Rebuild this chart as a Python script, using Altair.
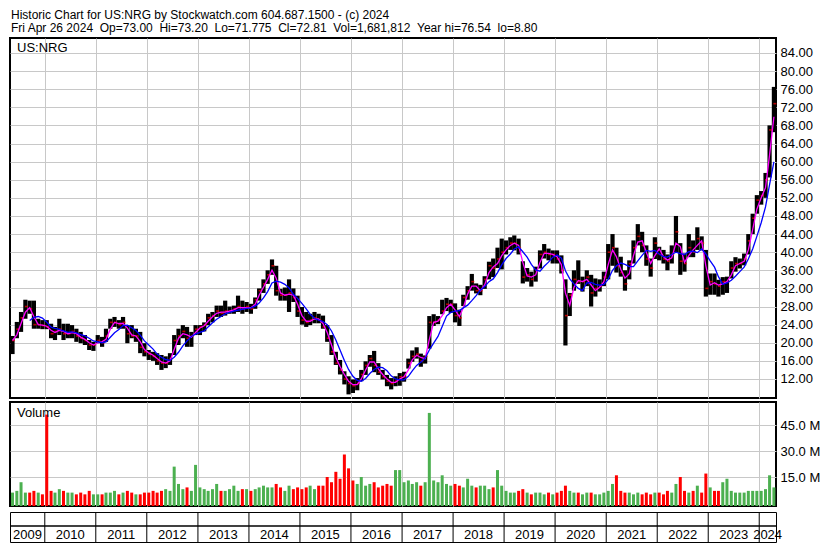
import altair as alt
import pandas as pd

FONT = "Liberation Sans"
GRID = "#c8c8c8"
RED = "#ff0000"
GREEN = "#4cb050"
W = 766

header1 = "Historic Chart for US:NRG by Stockwatch.com 604.687.1500 - (c) 2024"
header_fields = ["Fri Apr 26 2024", "Op=73.00", "Hi=73.20", "Lo=71.775", "Cl=72.81",
                 "Vol=1,681,812", "Year hi=76.54", "lo=8.80"]
header2 = "\u00a0\u00a0".join(header_fields)

# monthly bars, May 2009 .. Apr 2024
low = [
    17.5, 21.0, 22.4, 25.3, 26.4, 23.1, 23.1, 23.0,
    23.0, 21.0, 20.6, 21.7, 20.6, 21.0, 21.0, 20.2, 19.9, 19.5, 18.4, 18.2,
    19.9, 19.1, 20.2, 23.1, 23.5, 23.1, 23.1, 19.9, 21.0, 20.2, 17.7, 17.0,
    16.2, 16.0, 15.1, 14.0, 14.4, 15.1, 17.3, 19.5, 21.0, 19.1, 19.1, 21.7,
    21.7, 22.5, 23.9, 24.5, 25.7, 25.7, 26.0, 26.4, 26.4, 26.8, 26.4, 26.8,
    26.4, 27.5, 29.3, 31.0, 33.0, 35.0, 30.4, 29.3, 29.3, 26.8, 29.0, 25.7,
    24.0, 23.5, 23.9, 24.3, 24.3, 23.1, 20.2, 17.3, 15.1, 13.0, 10.8, 8.6,
    8.9, 9.5, 11.5, 12.9, 14.7, 13.5, 12.9, 11.9, 10.4, 9.7, 10.4, 10.5,
    11.4, 14.3, 15.8, 16.5, 14.7, 15.4, 18.7, 23.7, 24.1, 26.3, 27.0, 26.6,
    24.5, 23.7, 28.1, 29.5, 31.5, 30.9, 30.5, 31.9, 34.0, 34.5, 36.5, 36.2,
    39.5, 40.5, 40.4, 39.5, 33.1, 33.5, 32.4, 33.5, 36.4, 38.6, 38.2, 37.5,
    37.5, 35.3, 19.4, 25.9, 31.5, 33.0, 31.3, 32.5, 28.0, 30.2, 31.3, 32.5,
    34.0, 37.0, 35.5, 34.6, 31.5, 34.0, 37.5, 41.5, 40.0, 37.0, 34.6, 38.5,
    38.2, 37.5, 36.0, 37.5, 40.0, 35.0, 35.7, 38.9, 38.9, 40.5, 40.4, 30.2,
    30.6, 30.6, 30.2, 30.6, 31.0, 34.2, 35.7, 36.4, 37.1, 39.5, 44.0, 48.5,
    50.5, 52.0, 56.5, 66.5,
]
high = [
    21.5, 24.6, 26.8, 29.5, 29.3, 29.3, 25.3, 25.0,
    25.0, 24.2, 23.5, 25.3, 24.2, 24.2, 23.9, 23.1, 22.4, 21.7, 20.6, 20.2,
    21.7, 21.3, 23.1, 25.3, 25.7, 25.0, 25.7, 23.9, 23.9, 23.1, 22.4, 19.9,
    18.4, 18.0, 17.7, 17.3, 17.0, 17.7, 21.7, 23.1, 23.9, 23.5, 22.4, 23.9,
    23.9, 24.5, 26.4, 26.8, 28.2, 28.2, 29.3, 28.0, 28.2, 30.4, 29.3, 29.0,
    28.6, 30.0, 32.0, 34.0, 36.0, 38.4, 37.0, 31.9, 32.2, 34.0, 32.0, 30.4,
    27.9, 26.8, 26.4, 26.8, 26.4, 26.0, 23.9, 21.7, 18.0, 16.2, 13.7, 12.6,
    11.9, 12.2, 14.0, 15.9, 17.3, 18.2, 15.5, 14.0, 12.9, 12.2, 12.6, 13.3,
    13.6, 16.5, 18.3, 19.0, 17.6, 17.2, 25.9, 26.3, 25.9, 29.5, 29.9, 29.5,
    28.7, 27.3, 30.6, 32.5, 35.2, 33.1, 32.8, 34.7, 37.9, 38.6, 41.0, 43.0,
    42.6, 43.3, 43.7, 43.0, 38.0, 36.5, 35.7, 36.8, 40.4, 41.8, 40.8, 40.4,
    40.4, 39.3, 34.0, 31.0, 36.0, 38.2, 34.6, 36.0, 35.0, 34.2, 34.0, 35.7,
    41.8, 44.0, 41.0, 39.0, 36.0, 38.2, 42.6, 46.2, 44.5, 41.5, 38.6, 43.3,
    41.2, 40.5, 39.5, 41.5, 48.0, 42.0, 39.7, 44.0, 42.6, 45.5, 43.5, 40.5,
    35.3, 35.3, 33.9, 34.5, 34.6, 38.0, 38.9, 38.6, 39.7, 44.0, 48.5, 52.6,
    53.5, 57.5, 68.0, 76.5,
]
close = [
    20.5, 23.0, 25.5, 28.0, 27.5, 24.0, 24.0, 23.8,
    23.5, 22.0, 22.5, 23.0, 22.0, 22.0, 22.5, 21.5, 21.0, 20.5, 19.5, 19.5,
    20.5, 20.0, 21.5, 24.5, 24.5, 24.0, 24.5, 22.0, 21.5, 21.5, 19.0, 18.0,
    17.5, 17.0, 16.0, 15.5, 15.5, 16.5, 20.5, 21.5, 22.5, 21.0, 21.5, 23.0,
    23.5, 24.0, 25.5, 26.0, 27.0, 26.5, 27.0, 27.0, 27.5, 28.0, 27.5, 28.0,
    27.5, 29.5, 31.5, 33.0, 35.0, 37.0, 31.5, 30.5, 30.5, 31.0, 30.0, 27.0,
    25.0, 24.5, 25.0, 25.5, 25.0, 23.5, 21.0, 18.0, 15.5, 14.0, 12.0, 11.0,
    10.5, 11.0, 13.0, 15.0, 16.5, 15.0, 13.5, 12.5, 11.5, 11.0, 11.5, 12.5,
    12.5, 15.5, 17.0, 17.5, 16.0, 17.0, 24.5, 24.5, 25.0, 27.0, 28.5, 28.5,
    26.0, 25.5, 30.0, 31.5, 33.5, 31.5, 31.5, 34.0, 37.0, 36.5, 38.5, 40.0,
    41.0, 42.0, 42.0, 41.0, 34.5, 35.0, 34.0, 36.0, 39.5, 40.0, 39.5, 39.5,
    38.5, 36.0, 26.0, 30.5, 34.0, 33.5, 33.5, 34.5, 31.0, 32.0, 32.5, 34.5,
    40.0, 41.0, 37.0, 35.5, 33.0, 37.5, 41.0, 43.5, 41.5, 38.5, 36.5, 42.0,
    39.5, 38.5, 38.0, 39.5, 44.5, 38.0, 37.5, 41.0, 40.0, 43.0, 42.0, 32.0,
    33.5, 33.0, 32.5, 33.5, 33.5, 36.5, 37.5, 37.5, 38.5, 42.5, 47.5, 51.5,
    52.5, 56.0, 67.0, 72.8,
]
# volume in millions
volume = [
    6, 7, 12, 6, 6, 7, 6, 5,
    51, 7, 6, 8, 7, 6, 6, 5, 6, 5, 7, 5,
    5, 5, 6, 6, 7, 5, 6, 7, 6, 5, 5, 6,
    6, 7, 6, 7, 8, 7, 21, 11, 8, 9, 7, 22,
    9, 8, 7, 8, 11, 7, 7, 8, 10, 7, 8, 8,
    7, 8, 9, 10, 9, 9, 11, 9, 7, 10, 8, 9,
    8, 9, 10, 8, 10, 10, 15, 12, 18, 14, 28, 20,
    13, 11, 15, 10, 11, 12, 9, 10, 11, 10, 19, 19,
    12, 13, 11, 12, 10, 12, 52, 13, 12, 16, 11, 10,
    11, 10, 9, 14, 10, 9, 10, 10, 8, 9, 19, 10,
    7, 6, 6, 7, 8, 6, 5, 6, 6, 5, 6, 5,
    6, 7, 10, 7, 6, 6, 5, 6, 6, 5, 5, 6,
    7, 11, 16, 7, 6, 6, 5, 6, 5, 6, 5, 6,
    6, 5, 7, 6, 11, 15, 7, 6, 7, 10, 6, 17,
    9, 7, 7, 12, 14, 7, 6, 6, 6, 7, 7, 7,
    7, 8, 16, 9,
]
price_ticks = list(range(12, 85, 4))
volume_ticks = [15, 30, 45]
years = list(range(2009, 2025))

dates = pd.date_range("2009-05-15", periods=len(close), freq=pd.DateOffset(months=1))
df = pd.DataFrame({"date": dates, "low": low, "high": high, "close": close, "vol": volume})
df["dir"] = ["up" if i == 0 or close[i] >= close[i - 1] else "down" for i in range(len(close))]

xscale = alt.Scale(domain=[alt.DateTime(year=2009, month=4, date=27),
                           alt.DateTime(year=2024, month=4, date=30)])
year_starts = [alt.DateTime(year=y, month=1, date=1) for y in years[1:]]
xaxis = alt.Axis(values=year_starts, grid=True, gridColor=GRID, gridWidth=1,
                 labels=False, ticks=False, domain=False, title=None)
X = alt.X("date:T", scale=xscale, axis=xaxis)

# ---------------- header ----------------
hdf = pd.DataFrame({"t": [header1, header2], "y": [0, 13]})
header = alt.Chart(hdf).mark_text(
    align="left", baseline="top", font=FONT, fontSize=12, color="black"
).encode(
    x=alt.value(1), y=alt.Y("y:Q", scale=None, axis=None), text="t:N"
).properties(width=W, height=24, view=alt.ViewBackground(stroke="transparent"))

# ---------------- price panel ----------------
PH = 360
yscale = alt.Scale(domain=[7.8, 87.3], nice=False, zero=False)
yaxis = alt.Axis(orient="right", values=price_ticks, format=".2f", grid=True,
                 gridColor=GRID, gridWidth=1, ticks=False, domain=False,
                 labelFont=FONT, labelFontSize=13, labelColor="black",
                 labelPadding=4, title=None)

bars = alt.Chart(df).mark_rule(color="black", strokeWidth=4.2).encode(
    x=X, y=alt.Y("low:Q", scale=yscale, axis=yaxis), y2="high:Q")
cticks = alt.Chart(df).mark_tick(color=RED, orient="horizontal", size=3,
                                 thickness=1.6, xOffset=1).encode(
    x=X, y=alt.Y("close:Q", scale=yscale, axis=yaxis))
ma_short = alt.Chart(df).transform_window(
    ma="mean(close)", frame=[-1, 0], sort=[alt.SortField(field="date")]
).mark_line(color="#ff00ff", strokeWidth=1.3).encode(
    x=X, y=alt.Y("ma:Q", scale=yscale, axis=yaxis))
ma_long = alt.Chart(df).transform_window(
    ma="mean(close)", rn="row_number()", frame=[-4, 0], sort=[alt.SortField(field="date")]
).transform_filter("datum.rn >= 5").mark_line(color="#0000ff", strokeWidth=1.3).encode(
    x=X, y=alt.Y("ma:Q", scale=yscale, axis=yaxis))
plabel = alt.Chart(pd.DataFrame({"t": ["US:NRG"]})).mark_text(
    align="left", baseline="alphabetic", font=FONT, fontSize=13, color="black"
).encode(x=alt.value(7), y=alt.value(14), text="t:N")

price = alt.layer(bars, cticks, ma_short, ma_long, plabel).properties(
    width=W, height=PH, view=alt.ViewBackground(stroke="black", strokeWidth=2))

# ---------------- volume panel ----------------
VH = 104
vscale = alt.Scale(domain=[-1.73, 58.3], nice=False, zero=False)
vaxis = alt.Axis(orient="right", values=volume_ticks,
                 labelExpr="format(datum.value, '.1f') + ' M'", grid=True,
                 gridColor=GRID, gridWidth=1, ticks=False, domain=False,
                 labelFont=FONT, labelFontSize=13, labelColor="black",
                 labelPadding=4, title=None)
vbars = alt.Chart(df).mark_rule(strokeWidth=3.0).encode(
    x=X, y=alt.Y("vol:Q", scale=vscale, axis=vaxis), y2=alt.value(VH),
    color=alt.Color("dir:N", scale=alt.Scale(domain=["up", "down"], range=[GREEN, RED]),
                    legend=None))
vlabel = alt.Chart(pd.DataFrame({"t": ["Volume"]})).mark_text(
    align="left", baseline="alphabetic", font=FONT, fontSize=13, color="black"
).encode(x=alt.value(7), y=alt.value(15), text="t:N")
volume_chart = alt.layer(vbars, vlabel).properties(
    width=W, height=VH, view=alt.ViewBackground(stroke="black", strokeWidth=2))

# ---------------- year row ----------------
ystart = pd.DataFrame({"start": [pd.Timestamp(f"{y}-01-01") for y in years[1:]]})
mids = ([pd.Timestamp("2009-08-30")] + [pd.Timestamp(f"{y}-07-02") for y in years[1:-1]]
        + [pd.Timestamp("2024-03-01")])
ylab = pd.DataFrame({"mid": mids, "year": [str(y) for y in years]})
sep = alt.Chart(ystart).mark_rule(color="black", strokeWidth=1).encode(
    x=alt.X("start:T", scale=xscale, axis=None), y=alt.value(0), y2=alt.value(30))
hline = alt.Chart(pd.DataFrame({"a": [0]})).mark_rule(color="black", strokeWidth=1.5).encode(
    x=alt.value(0), x2=alt.value(W), y=alt.value(14))
ytext = alt.Chart(ylab).mark_text(
    align="center", baseline="alphabetic", font=FONT, fontSize=13, color="black"
).encode(x=alt.X("mid:T", scale=xscale, axis=None), y=alt.value(27), text="year:N")
yearrow = alt.layer(sep, hline, ytext).properties(
    width=W, height=30, view=alt.ViewBackground(stroke="black", strokeWidth=1))

chart = alt.vconcat(header, price, volume_chart, yearrow, spacing=2).properties(
    padding=0, background="white")

chart.save("out.html", embed_options={"renderer": "svg", "actions": False})
